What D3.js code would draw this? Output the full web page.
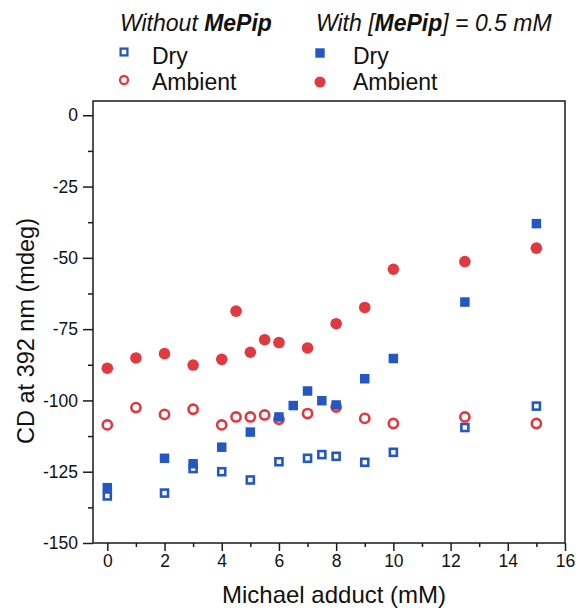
<!DOCTYPE html>
<html>
<head>
<meta charset="utf-8">
<script src="https://cdn.jsdelivr.net/npm/d3@7"></script>
<style>
  html, body { margin: 0; padding: 0; background: #fff; }
  svg { display: block; font-family: Arial, "Liberation Sans", sans-serif; }
</style>
</head>
<body>
<svg id="chart" width="576" height="610"></svg>
<script>
// ---- Data ----
const ambientX = [0, 1, 2, 3, 4, 4.5, 5, 5.5, 6, 7, 8, 9, 10, 12.5, 15];
const withAmbient    = [-88.7, -85.1, -83.6, -87.6, -85.6, -68.7, -83.1, -78.7, -79.7, -81.6, -73.1, -67.4, -54.0, -51.3, -46.6];
const withoutAmbient = [-108.6, -102.5, -104.9, -103.1, -108.6, -105.8, -105.8, -105.1, -106.6, -104.6, -102.3, -106.3, -108.1, -105.8, -108.1];

const withDryX = [0, 2, 3, 4, 5, 6, 6.5, 7, 7.5, 8, 9, 10, 12.5, 15];
const withDry  = [-130.6, -120.3, -122.2, -116.4, -111.1, -105.8, -101.8, -96.7, -100.1, -101.6, -92.4, -85.3, -65.5, -38.0];

const withoutDryX = [0, 2, 3, 4, 5, 6, 7, 7.5, 8, 9, 10, 12.5, 15];
const withoutDry  = [-133.5, -132.5, -123.9, -125.0, -127.9, -121.5, -120.3, -119.0, -119.6, -121.7, -118.2, -109.5, -102.0];

const xTicks = [0, 2, 4, 6, 8, 10, 12, 14, 16];
const xMinorTicks = [1, 3, 5, 7, 9, 11, 13, 15];
const yTicks = [0, -25, -50, -75, -100, -125, -150];
const yMinorTicks = [-12.5, -37.5, -62.5, -87.5, -112.5, -137.5];

const xTitle = "Michael adduct (mM)";
const yTitle = "CD at 392 nm (mdeg)";

// ---- Styles ----
const RED = "#e0393f";
const BLUE = "#2456c4";
const AXIS = "#1a1a1a";

const svg = d3.select("#chart");
const L = 93, R = 565, T = 101, B = 543;

const x = d3.scaleLinear().domain([-0.5, 16]).range([L, R]);
const y = d3.scaleLinear().domain([-150, 5]).range([B, T]);
const plain = d => String(d);

// Frame
svg.append("rect")
  .attr("x", L).attr("y", T).attr("width", R - L).attr("height", B - T)
  .attr("fill", "none").attr("stroke", AXIS).attr("stroke-width", 1.5);

// X axis
const xAxis = svg.append("g").attr("transform", `translate(0,${B})`)
  .call(d3.axisBottom(x).tickValues(xTicks).tickSize(8).tickPadding(4).tickFormat(plain));
xAxis.select(".domain").remove();
xAxis.selectAll(".tick line").attr("stroke", AXIS).attr("stroke-width", 1.5);
xAxis.selectAll(".tick text").attr("font-size", 17.5).attr("fill", "#111").attr("font-family", "Arial, 'Liberation Sans', sans-serif");
const xMinor = svg.append("g").attr("transform", `translate(0,${B})`)
  .call(d3.axisBottom(x).tickValues(xMinorTicks).tickSize(4).tickFormat(""));
xMinor.select(".domain").remove();
xMinor.selectAll(".tick line").attr("stroke", AXIS).attr("stroke-width", 1.5);

// Y axis
const yAxis = svg.append("g").attr("transform", `translate(${L},0)`)
  .call(d3.axisLeft(y).tickValues(yTicks).tickSize(10).tickPadding(5).tickFormat(plain));
yAxis.select(".domain").remove();
yAxis.selectAll(".tick line").attr("stroke", AXIS).attr("stroke-width", 1.5);
yAxis.selectAll(".tick text").attr("font-size", 17.5).attr("fill", "#111").attr("font-family", "Arial, 'Liberation Sans', sans-serif");
const yMinor = svg.append("g").attr("transform", `translate(${L},0)`)
  .call(d3.axisLeft(y).tickValues(yMinorTicks).tickSize(5).tickFormat(""));
yMinor.select(".domain").remove();
yMinor.selectAll(".tick line").attr("stroke", AXIS).attr("stroke-width", 1.5);

// Axis titles
svg.append("text")
  .attr("x", 334).attr("y", 603)
  .attr("text-anchor", "middle").attr("font-size", 24).attr("fill", "#111")
  .text(xTitle);
svg.append("text")
  .attr("transform", `translate(34,331) rotate(-90)`)
  .attr("text-anchor", "middle").attr("font-size", 23.5).attr("fill", "#111")
  .text(yTitle);

// ---- Marks ----
const plot = svg.append("g");
const sqOpen = 7, sqFill = 9.5, rCirc = 5.8, rOpen = 4.6;

// Open squares: without MePip, dry
plot.selectAll(".oSq").data(withoutDry).join("rect")
  .attr("x", (d, i) => x(withoutDryX[i]) - sqOpen / 2)
  .attr("y", d => y(d) - sqOpen / 2)
  .attr("width", sqOpen).attr("height", sqOpen)
  .attr("fill", "#fff").attr("stroke", BLUE).attr("stroke-width", 2.6);

// Open circles: without MePip, ambient
plot.selectAll(".oCi").data(withoutAmbient).join("circle")
  .attr("cx", (d, i) => x(ambientX[i]))
  .attr("cy", d => y(d))
  .attr("r", rOpen)
  .attr("fill", "#fff").attr("stroke", RED).attr("stroke-width", 2.6);

// Filled circles: with MePip, ambient
plot.selectAll(".fCi").data(withAmbient).join("circle")
  .attr("cx", (d, i) => x(ambientX[i]))
  .attr("cy", d => y(d))
  .attr("r", rCirc)
  .attr("fill", RED);

// Filled squares: with MePip, dry
plot.selectAll(".fSq").data(withDry).join("rect")
  .attr("x", (d, i) => x(withDryX[i]) - sqFill / 2)
  .attr("y", d => y(d) - sqFill / 2)
  .attr("width", sqFill).attr("height", sqFill)
  .attr("fill", BLUE);

// ---- Legend ----
const leg = svg.append("g").attr("font-size", 23).attr("fill", "#111");
const t1 = leg.append("text").attr("x", 120).attr("y", 31).attr("font-style", "italic");
t1.append("tspan").text("Without ");
t1.append("tspan").attr("font-weight", "bold").text("MePip");
const t2 = leg.append("text").attr("x", 316).attr("y", 31).attr("font-style", "italic");
t2.append("tspan").text("With [");
t2.append("tspan").attr("font-weight", "bold").text("MePip");
t2.append("tspan").text("] = 0.5 mM");

leg.append("rect").attr("x", 124 - 3.4).attr("y", 52 - 3.4).attr("width", 6.8).attr("height", 6.8)
  .attr("fill", "#fff").attr("stroke", BLUE).attr("stroke-width", 2.3);
leg.append("circle").attr("cx", 124).attr("cy", 80).attr("r", 4)
  .attr("fill", "#fff").attr("stroke", RED).attr("stroke-width", 2.3);
leg.append("rect").attr("x", 320 - 4.7).attr("y", 53 - 4.7).attr("width", 9.4).attr("height", 9.4).attr("fill", BLUE);
leg.append("circle").attr("cx", 320).attr("cy", 82).attr("r", 5.5).attr("fill", RED);

leg.append("text").attr("x", 152).attr("y", 64).text("Dry");
leg.append("text").attr("x", 152).attr("y", 90).text("Ambient");
leg.append("text").attr("x", 353).attr("y", 64).text("Dry");
leg.append("text").attr("x", 353).attr("y", 90).text("Ambient");
</script>
</body>
</html>
